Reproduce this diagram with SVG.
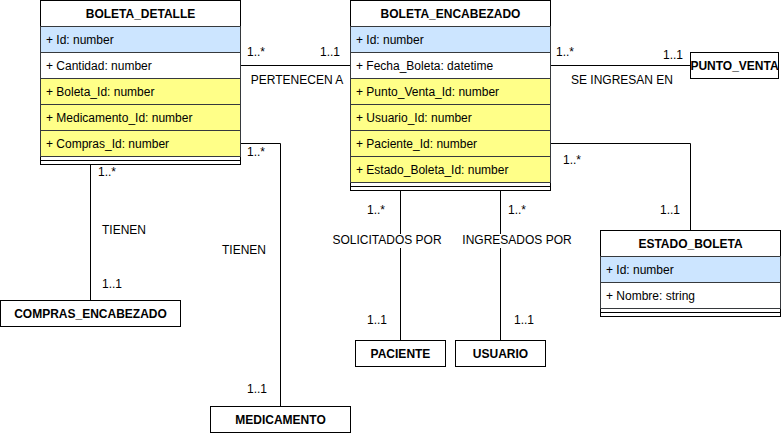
<svg xmlns="http://www.w3.org/2000/svg" width="781" height="433" viewBox="0 0 781 433">
<style>
text{font-family:"Liberation Sans",Arial,Helvetica,sans-serif;font-size:12px;fill:#000}
.t{font-weight:bold;text-anchor:middle}
.c{text-anchor:middle}
.box{fill:#fff;stroke:#000;stroke-width:1}
.pk{fill:#cce5ff;stroke:#36393d;stroke-width:1}
.fk{fill:#ffff88;stroke:#36393d;stroke-width:1}
.rw{fill:#fff;stroke:#36393d;stroke-width:1}
.ln{fill:none;stroke:#000;stroke-width:1}
.bg{fill:#fff}
</style>
<rect width="781" height="433" fill="#fff"/>
<g id="connectors">
  <path class="ln" d="M240.5 65.5H350.5"/>
  <path class="ln" d="M550.5 65.5H690.5"/>
  <path class="ln" d="M240.5 143.5H280.5V406.5"/>
  <path class="ln" d="M90.5 164.5V300.5"/>
  <path class="ln" d="M400.5 190.5V340.5"/>
  <path class="ln" d="M500.5 190.5V340.5"/>
  <path class="ln" d="M550.5 143.5H690.5V230.5"/>
  <rect class="bg" x="333" y="234" width="108" height="14"/>
  <rect class="bg" x="462" y="234" width="110" height="14"/>
  <text x="247" y="56">1..*</text>
  <text x="320" y="56">1..1</text>
  <text class="c" x="297" y="84">PERTENECEN A</text>
  <text x="556" y="56">1..*</text>
  <text x="663" y="59">1..1</text>
  <text class="c" x="622" y="84">SE INGRESAN EN</text>
  <text x="247" y="156">1..*</text>
  <text class="c" x="244" y="254">TIENEN</text>
  <text x="247" y="393">1..1</text>
  <text x="98" y="176">1..*</text>
  <text class="c" x="124" y="234">TIENEN</text>
  <text x="102" y="288">1..1</text>
  <text x="367" y="214">1..*</text>
  <text class="c" x="387" y="244">SOLICITADOS POR</text>
  <text x="367" y="324">1..1</text>
  <text x="508" y="214">1..*</text>
  <text class="c" x="517" y="244">INGRESADOS POR</text>
  <text x="514" y="324">1..1</text>
  <text x="563" y="164">1..*</text>
  <text x="660" y="214">1..1</text>
</g>
<g id="boleta_detalle">
  <rect class="box" x="40.5" y="0.5" width="200" height="164"/>
  <text class="t" x="140.5" y="18">BOLETA_DETALLE</text>
  <rect class="pk" x="40.5" y="26.5" width="200" height="26"/>
  <text x="46" y="44">+ Id: number</text>
  <rect class="rw" x="40.5" y="52.5" width="200" height="26"/>
  <text x="46" y="70">+ Cantidad: number</text>
  <rect class="fk" x="40.5" y="78.5" width="200" height="26"/>
  <text x="46" y="96">+ Boleta_Id: number</text>
  <rect class="fk" x="40.5" y="104.5" width="200" height="26"/>
  <text x="46" y="122">+ Medicamento_Id: number</text>
  <rect class="fk" x="40.5" y="130.5" width="200" height="26"/>
  <text x="46" y="148">+ Compras_Id: number</text>
  <path class="ln" d="M40.5 160.5H240.5"/>
</g>
<g id="boleta_encabezado">
  <rect class="box" x="350.5" y="0.5" width="200" height="190"/>
  <text class="t" x="450.5" y="18">BOLETA_ENCABEZADO</text>
  <rect class="pk" x="350.5" y="26.5" width="200" height="26"/>
  <text x="356" y="44">+ Id: number</text>
  <rect class="rw" x="350.5" y="52.5" width="200" height="26"/>
  <text x="356" y="70">+ Fecha_Boleta: datetime</text>
  <rect class="fk" x="350.5" y="78.5" width="200" height="26"/>
  <text x="356" y="96">+ Punto_Venta_Id: number</text>
  <rect class="fk" x="350.5" y="104.5" width="200" height="26"/>
  <text x="356" y="122">+ Usuario_Id: number</text>
  <rect class="fk" x="350.5" y="130.5" width="200" height="26"/>
  <text x="356" y="148">+ Paciente_Id: number</text>
  <rect class="fk" x="350.5" y="156.5" width="200" height="26"/>
  <text x="356" y="174">+ Estado_Boleta_Id: number</text>
  <path class="ln" d="M350.5 186.5H550.5"/>
</g>
<g id="estado_boleta">
  <rect class="box" x="600.5" y="230.5" width="180" height="86"/>
  <text class="t" x="690.5" y="248">ESTADO_BOLETA</text>
  <rect class="pk" x="600.5" y="256.5" width="180" height="26"/>
  <text x="606" y="274">+ Id: number</text>
  <rect class="rw" x="600.5" y="282.5" width="180" height="26"/>
  <text x="606" y="300">+ Nombre: string</text>
  <path class="ln" d="M600.5 312.5H780.5"/>
</g>
<g id="punto_venta">
  <rect class="box" x="690.5" y="52.5" width="88" height="26"/>
  <text class="t" x="734.5" y="70">PUNTO_VENTA</text>
</g>
<g id="compras_encabezado">
  <rect class="box" x="0.5" y="300.5" width="180" height="26"/>
  <text class="t" x="90.5" y="318">COMPRAS_ENCABEZADO</text>
</g>
<g id="medicamento">
  <rect class="box" x="210.5" y="406.5" width="140" height="26"/>
  <text class="t" x="280.5" y="424">MEDICAMENTO</text>
</g>
<g id="paciente">
  <rect class="box" x="355.5" y="340.5" width="90" height="26"/>
  <text class="t" x="400.5" y="358">PACIENTE</text>
</g>
<g id="usuario">
  <rect class="box" x="455.5" y="340.5" width="90" height="26"/>
  <text class="t" x="500.5" y="358">USUARIO</text>
</g>
</svg>
